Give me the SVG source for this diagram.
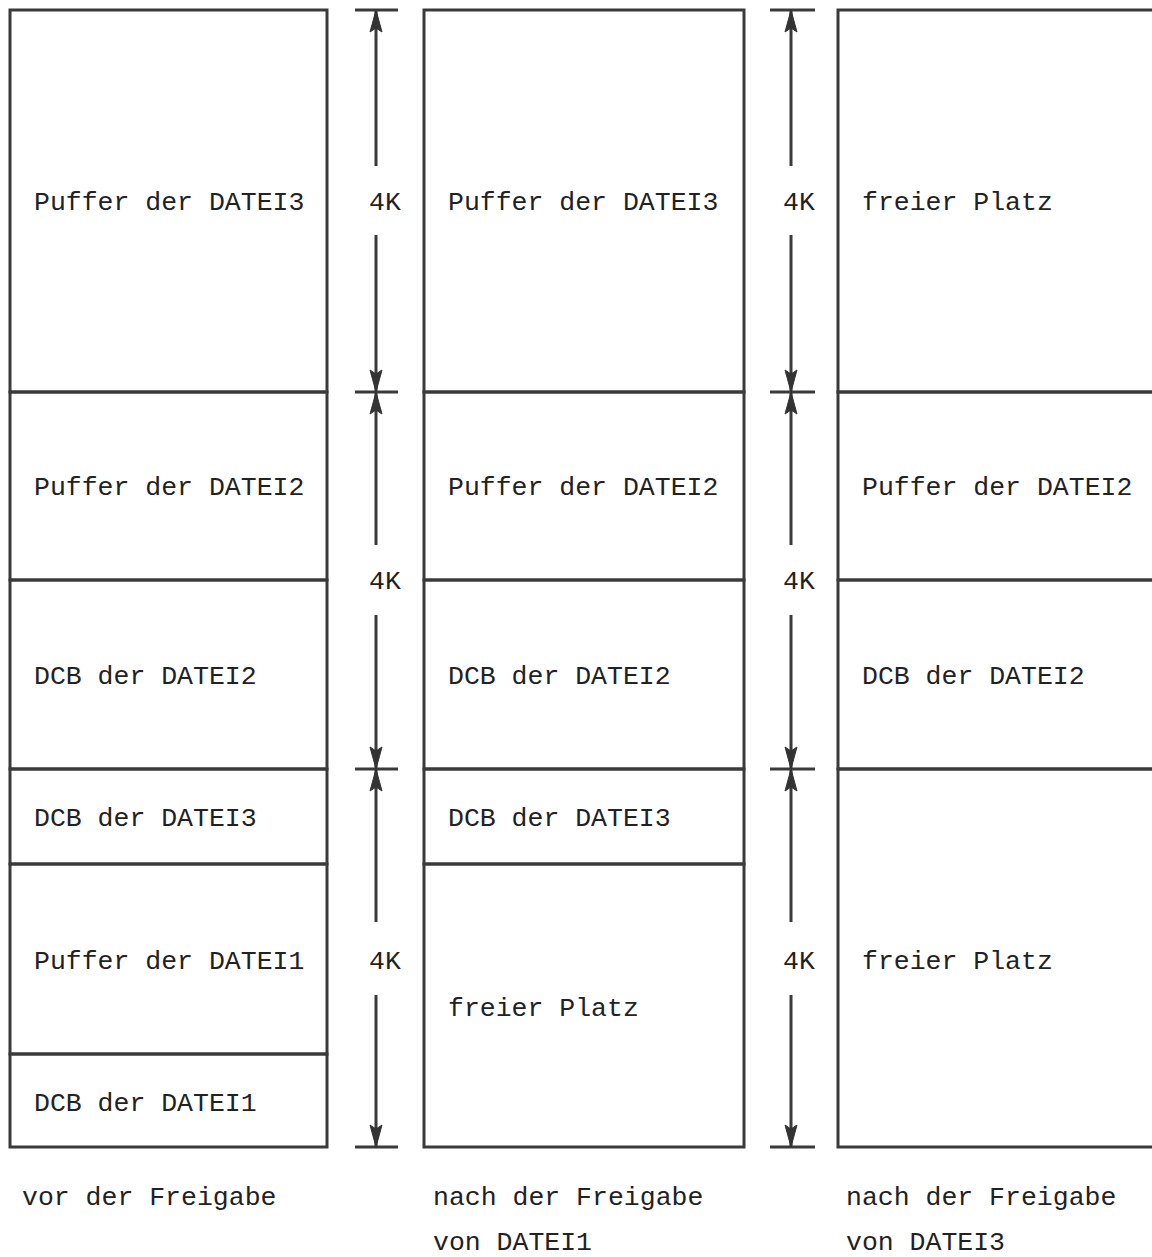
<svg xmlns="http://www.w3.org/2000/svg" width="1152" height="1257" viewBox="0 0 1152 1257">
<style>
.cell{fill:none;stroke:#3a3a3a;stroke-width:3}
.t{font-family:"Liberation Mono","DejaVu Sans Mono",monospace;font-size:26.5px;fill:#222}
.dim{stroke:#3a3a3a;stroke-width:3;fill:none}
.ah{fill:#333;stroke:#333;stroke-width:1}
</style>
<defs>
<polygon id="up" points="0,0 -6,22 0,18 6,22" class="ah"/>
<polygon id="dn" points="0,0 -6,-22 0,-18 6,-22" class="ah"/>
</defs>
<rect width="1152" height="1257" fill="#fff"/>
<g id="col1">
<g id="c1a"><rect class="cell" x="10" y="10" width="317" height="382"/><text class="t" x="34" y="210">Puffer der DATEI3</text></g>
<g id="c1b"><rect class="cell" x="10" y="392" width="317" height="188"/><text class="t" x="34" y="495">Puffer der DATEI2</text></g>
<g id="c1c"><rect class="cell" x="10" y="580" width="317" height="189"/><text class="t" x="34" y="684">DCB der DATEI2</text></g>
<g id="c1d"><rect class="cell" x="10" y="769" width="317" height="95"/><text class="t" x="34" y="826">DCB der DATEI3</text></g>
<g id="c1e"><rect class="cell" x="10" y="864" width="317" height="190"/><text class="t" x="34" y="969">Puffer der DATEI1</text></g>
<g id="c1f"><rect class="cell" x="10" y="1054" width="317" height="93"/><text class="t" x="34" y="1111">DCB der DATEI1</text></g>
</g>
<g id="col2">
<g id="c2a"><rect class="cell" x="424" y="10" width="320" height="382"/><text class="t" x="448" y="210">Puffer der DATEI3</text></g>
<g id="c2b"><rect class="cell" x="424" y="392" width="320" height="188"/><text class="t" x="448" y="495">Puffer der DATEI2</text></g>
<g id="c2c"><rect class="cell" x="424" y="580" width="320" height="189"/><text class="t" x="448" y="684">DCB der DATEI2</text></g>
<g id="c2d"><rect class="cell" x="424" y="769" width="320" height="95"/><text class="t" x="448" y="826">DCB der DATEI3</text></g>
<g id="c2e"><rect class="cell" x="424" y="864" width="320" height="283"/><text class="t" x="448" y="1016">freier Platz</text></g>
</g>
<g id="col3">
<g id="c3a"><rect class="cell" x="838" y="10" width="330" height="382"/><text class="t" x="862" y="210">freier Platz</text></g>
<g id="c3b"><rect class="cell" x="838" y="392" width="330" height="188"/><text class="t" x="862" y="495">Puffer der DATEI2</text></g>
<g id="c3c"><rect class="cell" x="838" y="580" width="330" height="189"/><text class="t" x="862" y="684">DCB der DATEI2</text></g>
<g id="c3d"><rect class="cell" x="838" y="769" width="330" height="378"/><text class="t" x="862" y="969">freier Platz</text></g>
</g>
<g id="connectors">
<g id="dim1">
<path class="dim" d="M355 10H398M355 392H398M355 769H398M355 1147H398"/>
<path class="dim" d="M376 10V166M376 235V392M376 392V545M376 615V769M376 769V922M376 995V1147"/>
<use href="#up" x="376" y="10"/><use href="#dn" x="376" y="392"/><use href="#up" x="376" y="392"/>
<use href="#dn" x="376" y="769"/><use href="#up" x="376" y="769"/><use href="#dn" x="376" y="1147"/>
<text class="t" x="369" y="210">4K</text><text class="t" x="369" y="589">4K</text><text class="t" x="369" y="969">4K</text>
</g>
<g id="dim2">
<path class="dim" d="M770 10H815M770 392H815M770 769H815M770 1147H815"/>
<path class="dim" d="M791 10V166M791 235V392M791 392V545M791 615V769M791 769V922M791 995V1147"/>
<use href="#up" x="791" y="10"/><use href="#dn" x="791" y="392"/><use href="#up" x="791" y="392"/>
<use href="#dn" x="791" y="769"/><use href="#up" x="791" y="769"/><use href="#dn" x="791" y="1147"/>
<text class="t" x="783" y="210">4K</text><text class="t" x="783" y="589">4K</text><text class="t" x="783" y="969">4K</text>
</g>
</g>
<g id="captions">
<text class="t" x="22" y="1205">vor der Freigabe</text>
<text class="t" x="433" y="1205">nach der Freigabe</text>
<text class="t" x="433" y="1250">von DATEI1</text>
<text class="t" x="846" y="1205">nach der Freigabe</text>
<text class="t" x="846" y="1250">von DATEI3</text>
</g>
</svg>
